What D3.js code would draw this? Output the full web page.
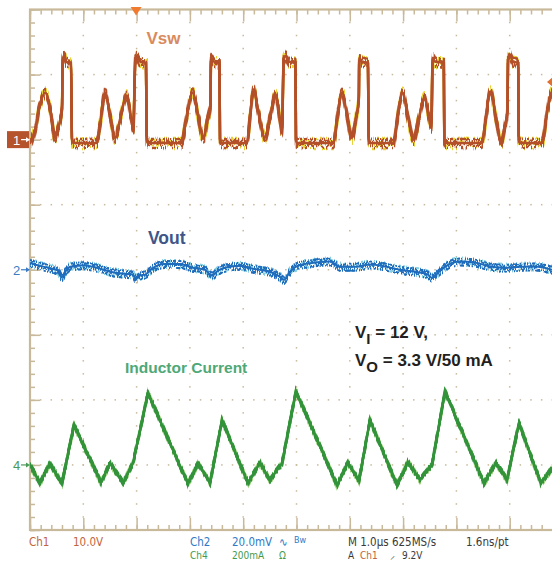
<!DOCTYPE html>
<html><head><meta charset="utf-8">
<script src="https://cdn.jsdelivr.net/npm/d3@7"></script>
<style>html,body{margin:0;padding:0;background:#fff;overflow:hidden}</style>
</head><body><svg id="c" width="552" height="561"></svg>
<script>
// ---------- data (time in µs) ----------
const vswTime = [0.000,0.094,0.188,0.287,0.375,0.469,0.544,0.600,0.614,0.638,0.675,0.769,0.788,0.807,
 1.251,1.313,1.407,1.501,1.595,1.689,1.814,1.895,1.938,1.976,2.008,2.064,2.176,2.189,2.214,
 2.846,2.927,3.053,3.152,3.252,3.340,3.386,3.396,3.452,3.555,3.565,3.583,
 4.066,4.128,4.190,4.296,4.409,4.503,4.606,4.690,4.728,4.760,4.803,4.859,4.981,4.990,5.009,
 5.698,5.760,5.854,5.947,6.041,6.116,6.169,6.178,6.229,6.341,6.354,6.379,
 6.823,6.885,6.992,7.092,7.199,7.298,7.405,7.486,7.529,7.555,7.598,7.764,7.773,7.805,
 8.480,8.537,8.636,8.743,8.842,8.912,8.959,8.968,9.006,9.062,9.159,9.169,9.193,
 9.606,9.681,9.756,9.812];
const vswVolts = [-0.5,1.5,5.4,7.2,4.9,0.4,2.3,4.6,12.3,12.9,12.0,11.8,0.0,-0.5,
 -0.5,2.3,7.2,3.8,0.3,3.1,6.8,3.4,1.5,12.3,12.9,12.0,11.8,0.0,-0.5,
 -0.5,3.1,7.2,3.8,0.3,3.4,5.4,12.6,12.0,11.8,0.0,-0.5,
 -0.5,3.4,7.7,3.8,0.3,3.4,6.9,3.1,1.1,12.3,12.9,12.0,11.8,0.0,-0.5,
 -0.5,3.1,7.2,3.8,0.3,3.4,6.2,12.6,12.0,11.8,0.0,-0.5,
 -0.5,2.8,7.2,3.4,0.0,3.4,6.5,3.4,1.8,12.6,12.0,11.8,0.0,-0.5,
 -0.5,2.3,7.4,3.4,-0.5,2.3,4.3,12.3,12.9,12.0,11.8,0.0,-0.5,
 -0.5,3.1,6.6,7.7];

const voutTime = [0,0.188,0.375,0.525,0.600,0.675,0.750,0.994,1.257,1.501,1.782,1.932,1.989,2.064,2.158,
 2.308,2.533,2.814,3.058,3.283,3.415,3.527,3.659,3.940,4.184,4.503,4.690,4.765,4.878,5.066,5.347,
 5.628,5.816,6.098,6.379,6.660,6.942,7.223,7.467,7.542,7.655,7.786,8.068,8.349,8.630,8.912,9.193,9.475,9.794];
const voutMilliVolts = [2.1,1.2,0.5,-0.3,-2.2,-0.3,0.9,1.4,0.6,-0.6,-1.2,-1.5,-2.8,-1.8,-1.5,
 0.6,1.8,1.8,0.6,0.0,-1.8,-0.3,0.6,1.2,0.3,-0.6,-2.2,-3.1,-0.6,1.5,2.2,
 2.5,0.9,0.9,1.6,1.0,0.0,-0.6,-1.5,-2.5,-0.9,0.9,2.5,2.2,1.0,0.6,0.9,1.0,0.0];

const ilTime = [0,0.188,0.375,0.600,0.826,1.332,1.501,1.745,1.932,2.214,2.964,3.152,3.377,3.602,4.090,
 4.315,4.503,4.728,4.990,5.760,5.966,6.173,6.379,6.885,7.092,7.317,7.542,7.786,8.518,8.743,8.949,9.174,9.587,9.794];
const ilMilliAmps = [0,-56,5,-56,123,-54,5,-54,6,221,-58,5,-56,138,-56,
 7,-46,5,226,-62,7,-48,138,-62,10,-46,0,226,-56,7,-46,128,-56,-10];

// channel settings: units per division and vertical position (divisions)
const channels = [
  {time:vswTime, vals:vswVolts, perDiv:10, pos:2, dark:"#b3502a", light:"#e8d236", curve:d3.curveMonotoneX, noise:[11,9], w:2.5},
  {time:voutTime, vals:voutMilliVolts, perDiv:20, pos:0, dark:"#1f6cbc", light:"#86cfe3", curve:d3.curveMonotoneX, noise:[8,7], w:2.0},
  {time:ilTime, vals:ilMilliAmps, perDiv:200, pos:-3, dark:"#33933b", light:"#9fd67f", curve:d3.curveLinear, noise:[5,4], w:2.5}
];

const svg = d3.select("#c");
const x = d3.scaleLinear().domain([0,10]).range([30,563]);
const yDiv = d3.scaleLinear().domain([-4,4]).range([530,9.5]);
const tan = "#c9b99b";

const defs = svg.append("defs");
defs.append("clipPath").attr("id","scr").append("rect")
  .attr("x",x(0)).attr("y",yDiv(4)).attr("width",x(10)-x(0)).attr("height",yDiv(-4)-yDiv(4));
function noiseFilter(id, seed, scale){
  const f = defs.append("filter").attr("id",id).attr("filterUnits","userSpaceOnUse")
    .attr("x",0).attr("y",0).attr("width",552).attr("height",561)
    .attr("color-interpolation-filters","sRGB");
  f.append("feTurbulence").attr("type","fractalNoise").attr("baseFrequency","0.9 0.02")
    .attr("numOctaves",2).attr("seed",seed).attr("result","t");
  const ct = f.append("feComponentTransfer").attr("in","t").attr("result","s");
  ct.append("feFuncR").attr("type","linear").attr("slope",0).attr("intercept",0.5);
  ct.append("feFuncG").attr("type","linear").attr("slope",3.5).attr("intercept",-1.25);
  ct.append("feFuncB").attr("type","identity");
  ct.append("feFuncA").attr("type","linear").attr("slope",0).attr("intercept",1);
  f.append("feDisplacementMap").attr("in","SourceGraphic").attr("in2","s")
    .attr("scale",scale).attr("xChannelSelector","R").attr("yChannelSelector","G");
}

// grid dots
const minorX = d3.range(0,10.001,0.2);
const minorY = d3.range(-4,4.001,0.2);
const grid = svg.append("g").attr("fill",tan);
d3.range(1,10).forEach(k=>{
  minorY.filter(d=>d>-3.99&&d<3.99).forEach(d=>grid.append("rect")
    .attr("x",x(k)-0.75).attr("y",yDiv(d)-0.75).attr("width",1.5).attr("height",1.5));
});
d3.range(-3,4).forEach(j=>{
  minorX.filter(d=>d>0.01&&d<9.99).forEach(d=>grid.append("rect")
    .attr("x",x(d)-0.75).attr("y",yDiv(j)-0.75).attr("width",1.5).attr("height",1.5));
});

// frame ticks via axes
function styleAxis(g){ g.select(".domain").remove(); g.selectAll("line").attr("stroke",tan).attr("stroke-width",1.5); g.selectAll("text").remove(); }
const majX = d3.range(0,10.001,1), majY = d3.range(-4,4.001,1);
svg.append("g").attr("transform",`translate(0,${yDiv(4)})`).call(d3.axisBottom(x).tickValues(minorX).tickSize(5).tickFormat("")).call(styleAxis);
svg.append("g").attr("transform",`translate(0,${yDiv(4)})`).call(d3.axisBottom(x).tickValues(majX).tickSize(12).tickFormat("")).call(styleAxis);
svg.append("g").attr("transform",`translate(0,${yDiv(-4)})`).call(d3.axisTop(x).tickValues(minorX).tickSize(5).tickFormat("")).call(styleAxis);
svg.append("g").attr("transform",`translate(0,${yDiv(-4)})`).call(d3.axisTop(x).tickValues(majX).tickSize(12).tickFormat("")).call(styleAxis);
svg.append("g").attr("transform",`translate(${x(0)},0)`).call(d3.axisRight(yDiv).tickValues(minorY).tickSize(5).tickFormat("")).call(styleAxis);
svg.append("g").attr("transform",`translate(${x(0)},0)`).call(d3.axisRight(yDiv).tickValues(majY).tickSize(10).tickFormat("")).call(styleAxis);
svg.append("rect").attr("x",x(0)).attr("y",yDiv(4)).attr("width",x(10)-x(0)).attr("height",yDiv(-4)-yDiv(4))
  .attr("fill","none").attr("stroke",tan).attr("stroke-width",2.2);

// traces
const traces = svg.append("g").attr("clip-path","url(#scr)");
channels.forEach((c,i)=>{
  const pts = c.time.map((t,k)=>[t,c.vals[k]]);
  const line = d3.line().x(d=>x(d[0])).y(d=>yDiv(d[1]/c.perDiv + c.pos)).curve(c.curve);
  const d = line(pts);
  const g = traces.append("g").attr("fill","none");
  const ids = [0,1,2,3,4].map(k=>{ const id=`f${i}_${k}`; noiseFilter(id, 7+i*13+k*5, k<2?c.noise[0]:c.noise[1]); return id; });
  g.append("path").attr("d",d).attr("stroke",c.light).attr("stroke-width",c.w).attr("filter",`url(#${ids[0]})`);
  g.append("path").attr("d",d).attr("stroke",c.light).attr("stroke-width",c.w).attr("filter",`url(#${ids[1]})`);
  g.append("path").attr("d",d).attr("stroke",c.dark).attr("stroke-width",c.w);
  g.append("path").attr("d",d).attr("stroke",c.dark).attr("stroke-width",c.w).attr("filter",`url(#${ids[2]})`);
  g.append("path").attr("d",d).attr("stroke",c.dark).attr("stroke-width",c.w).attr("filter",`url(#${ids[3]})`);
  g.append("path").attr("d",d).attr("stroke",c.dark).attr("stroke-width",c.w-0.5).attr("filter",`url(#${ids[4]})`);
});

// channel markers
svg.append("rect").attr("x",7).attr("y",yDiv(2)-8.5).attr("width",22).attr("height",17).attr("fill","#b5542c");
svg.append("text").attr("x",13).attr("y",yDiv(2)+5).attr("fill","#fff").attr("font-family","Liberation Sans, Arial").attr("font-size",13).text("1");
function arrow(y, color){
  svg.append("line").attr("x1",21).attr("x2",28).attr("y1",y).attr("y2",y).attr("stroke",color).attr("stroke-width",1.2);
  svg.append("path").attr("d",`M${30},${y} L${26},${y-2.5} L${26},${y+2.5} Z`).attr("fill",color);
}
arrow(yDiv(2),"#fff");
svg.append("text").attr("x",13).attr("y",yDiv(0)+5).attr("fill","#3a7cc4").attr("font-family","Liberation Sans Narrow, Arial").attr("font-size",13).text("2");
arrow(yDiv(0),"#3a7cc4");
svg.append("text").attr("x",13).attr("y",yDiv(-3)+5).attr("fill","#4a9a5a").attr("font-family","Liberation Sans Narrow, Arial").attr("font-size",13).text("4");
arrow(yDiv(-3),"#4a9a5a");

// trigger markers
svg.append("path").attr("d",`M${x(2)-6},7 L${x(2)+5},7 L${x(2)-0.5},15.5 Z`).attr("fill","#f07a30");
svg.append("path").attr("d",`M547,82 L553,77 L553,87 Z`).attr("fill","#e07030");

// labels
const bold = "Liberation Sans, Arial, sans-serif";
svg.append("text").attr("x",146.5).attr("y",43.5).attr("font-family",bold).attr("font-weight","bold").attr("font-size",17).attr("fill","#d98a5e").text("Vsw");
svg.append("text").attr("x",148).attr("y",244).attr("font-family",bold).attr("font-weight","bold").attr("font-size",17.5).attr("fill","#3e5688").text("Vout");
svg.append("text").attr("x",125).attr("y",372.5).attr("font-family",bold).attr("font-weight","bold").attr("font-size",15.5).attr("fill","#4ea877").text("Inductor Current");
const c1 = svg.append("text").attr("x",355).attr("y",337.5).attr("font-family",bold).attr("font-weight","bold").attr("font-size",17).attr("fill","#231f20");
c1.append("tspan").text("V");
c1.append("tspan").attr("dy",6).attr("font-size",15).text("I");
c1.append("tspan").attr("dy",-6).text(" = 12 V,");
const c2 = svg.append("text").attr("x",355).attr("y",366).attr("font-family",bold).attr("font-weight","bold").attr("font-size",17).attr("fill","#231f20");
c2.append("tspan").text("V");
c2.append("tspan").attr("dy",6).attr("font-size",15).text("O");
c2.append("tspan").attr("dy",-6).text(" = 3.3 V/50 mA");

// status bar
const nf = "Liberation Sans Narrow, DejaVu Sans Condensed, Arial Narrow, sans-serif";
function st(xp, yp, txt, col, size){ return svg.append("text").attr("x",xp).attr("y",yp).attr("font-family",nf).attr("font-size",size||11.5).attr("fill",col).text(txt); }
const orangeT="#c2643c", blueT="#2f7ac8", greenT="#3f9a4e", grayT="#3a3a3a";
st(29,545.5,"Ch1",orangeT); st(73,545.5,"10.0V",orangeT);
st(190,545.5,"Ch2",blueT); st(232,545.5,"20.0mV",blueT); st(279,545.5,"∿",blueT); st(294,542.5,"Bw",blueT,9);
st(348,545.5,"M 1.0µs 625MS/s",grayT); st(466,545.5,"1.6ns/pt",grayT);
st(190,558.5,"Ch4",greenT,10); st(232,558.5,"200mA",greenT,10); st(279,558.5,"Ω",greenT,10);
st(348,558.5,"A",grayT,10); st(360,558.5,"Ch1",orangeT,10); st(390,558.5,"⸝",grayT,10); st(402,558.5,"9.2V",grayT,10);
</script></body></html>
